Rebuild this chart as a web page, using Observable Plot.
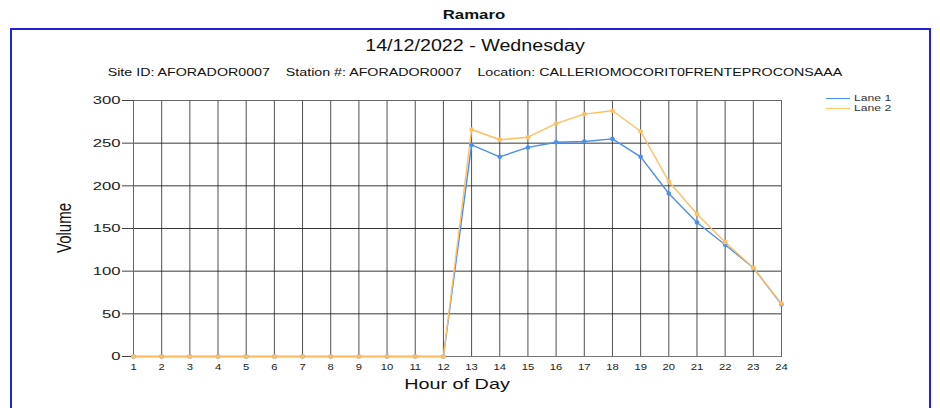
<!DOCTYPE html>
<html>
<head>
<meta charset="utf-8">
<script src="https://cdn.jsdelivr.net/npm/d3@7"></script>
<script src="https://cdn.jsdelivr.net/npm/@observablehq/plot@0.6"></script>
<style>
  body { margin: 0; background: #fff; font-family: "Liberation Sans", Arial, sans-serif; }
  #wrap { position: relative; width: 940px; height: 408px; overflow: hidden; }
  #wrap svg { position: absolute; left: 0; top: 0; }
  .t { position: absolute; white-space: nowrap; color: #111; }
  .c { transform-origin: center; text-align: center; }
  #border { position: absolute; left: 10px; top: 28px; width: 921px; height: 400px; border: 2px solid #2323d4; box-sizing: border-box; }
  .leg { position: absolute; font-size: 9px; color: #333; display: flex; align-items: center; }
  .leg span { display: inline-block; transform: scaleX(1.35); transform-origin: left center; }
  .sw { width: 24px; height: 0; border-top: 1.5px solid; margin-right: 4px; }
</style>
</head>
<body>
<div id="wrap">
  <div class="t c" style="left:0;width:948px;top:7px;font-weight:bold;font-size:13px;transform:scaleX(1.29);">Ramaro</div>
  <div id="border"></div>
  <div id="plot"></div>
  <div class="t c" style="left:0;width:950px;top:37px;font-size:16px;transform:scaleX(1.23);">14/12/2022 - Wednesday</div>
  <div class="t c" style="left:0;width:950px;top:66px;font-size:11px;transform:scaleX(1.295);">Site ID: AFORADOR0007&nbsp;&nbsp;&nbsp;&nbsp;Station #: AFORADOR0007&nbsp;&nbsp;&nbsp;&nbsp;Location: CALLERIOMOCORIT0FRENTEPROCONSAAA</div>
  <div class="t" style="left:64px;top:228px;font-size:15px;transform:translate(-50%,-50%) scaleX(1.3) rotate(-90deg);">Volume</div>
  <div class="t c" style="left:0;width:914px;top:375px;font-size:15px;transform:scaleX(1.32);">Hour of Day</div>
  <div class="leg" style="left:826px;top:93px;"><div class="sw" style="border-color:#4a8ff0"></div><span>Lane 1</span></div>
  <div class="leg" style="left:826px;top:103px;"><div class="sw" style="border-color:#ffc266"></div><span>Lane 2</span></div>
</div>
<script>
const hours = d3.range(1, 25);
const lane1 = [0,0,0,0,0,0,0,0,0,0,0,0,248,234,245,251,252,255,234,191,157,131,104,61];
const lane2 = [0,0,0,0,0,0,0,0,0,0,0,0,266,254,257,273,284,288,264,205,167,134,104,62];
const yTicks = [0,50,100,150,200,250,300];

const data = [
  ...hours.map((h,i) => ({hour:h, value:lane1[i], lane:"Lane 1"})),
  ...hours.map((h,i) => ({hour:h, value:lane2[i], lane:"Lane 2"}))
];
const colors = {"Lane 1":"#4a8ff0","Lane 2":"#ffbf5e"};

const chart = Plot.plot({
  width: 940, height: 408,
  marginLeft: 133, marginRight: 159, marginTop: 100, marginBottom: 52,
  style: {fontFamily: "Liberation Sans, Arial, sans-serif", background: "transparent", color: "#222"},
  x: {domain: [1, 24]},
  y: {domain: [0, 300]},
  marks: [
    Plot.gridX(hours, {stroke: "#333", strokeOpacity: 0.85, strokeWidth: 1}),
    Plot.gridY(yTicks, {stroke: "#222", strokeOpacity: 0.9, strokeWidth: 1}),
    Plot.frame({stroke: "#666", strokeWidth: 1}),
    Plot.ruleY([0], {stroke: "#777", strokeWidth: 1}),
    Plot.axisY(yTicks, {tickSize: 11, tickPadding: 2, fontSize: 11.5, label: null, stroke: "#444", className: "yax"}),
    Plot.axisX(hours, {tickSize: 0, tickPadding: 7, fontSize: 9, label: null, className: "xax"}),
    Plot.lineY(data.filter(d => d.lane === "Lane 1"), {x: "hour", y: "value", stroke: colors["Lane 1"], strokeWidth: 1.4}),
    Plot.lineY(data.filter(d => d.lane === "Lane 2"), {x: "hour", y: "value", stroke: colors["Lane 2"], strokeWidth: 1.4}),
    Plot.dot(data.filter(d => d.lane === "Lane 1"), {x: "hour", y: "value", fill: colors["Lane 1"], r: 2.3}),
    Plot.dot(data.filter(d => d.lane === "Lane 2"), {x: "hour", y: "value", fill: colors["Lane 2"], r: 2.3})
  ]
});
document.getElementById("plot").appendChild(chart);
// horizontally stretch tick labels to match the reference's wide lettering
d3.select(chart).selectAll("g[aria-label='y-axis tick label'] text, .yax text").each(function() {
  const t = this.getAttribute("transform") || "";
  if (!t.includes("scale")) this.setAttribute("transform", t + " scale(1.45,1)");
});
d3.select(chart).selectAll("g[aria-label='x-axis tick label'] text, .xax text").each(function() {
  const t = this.getAttribute("transform") || "";
  if (!t.includes("scale")) this.setAttribute("transform", t + " scale(1.25,1)");
});
</script>
</body>
</html>
